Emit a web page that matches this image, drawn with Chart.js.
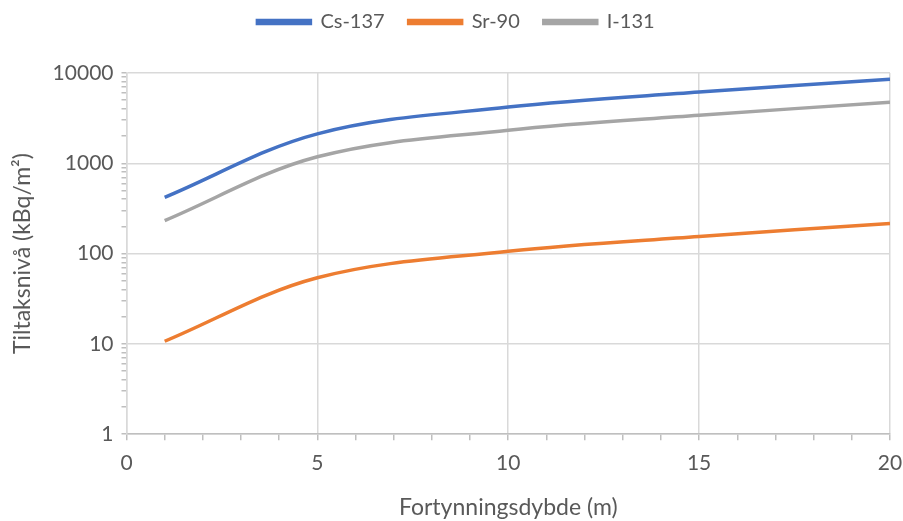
<!DOCTYPE html>
<html>
<head>
<meta charset="utf-8">
<script src="https://cdn.jsdelivr.net/npm/chart.js@4.4.1/dist/chart.umd.min.js"></script>
<style>
  body { margin: 0; background: #fff; }
</style>
</head>
<body>
<canvas id="chart" width="903" height="521"></canvas>
<script>
// depth values (m)
var depths = [1, 5, 10, 15, 20];
// action levels (kBq/m2)
var cs137 = [420, 2120, 4190, 6150, 8550];
var sr90 = [10.7, 54, 106, 155, 216];
var i131 = [232, 1180, 2320, 3400, 4750];
var seriesNames = ['Cs-137', 'Sr-90', 'I-131'];
var yMajor = [1, 10, 100, 1000, 10000];

var textColor = '#595959';
var gridColor = '#D9D9D9';
var font = 'Lato, "Open Sans", sans-serif';

function pts(vals) {
    return depths.map(function(d, i) { return { x: d, y: vals[i] }; });
}

function makeSet(label, vals, color) {
    return {
        label: label,
        data: pts(vals),
        borderColor: color,
        backgroundColor: color,
        borderWidth: 3.5,
        pointRadius: 0,
        tension: 0.35,
        fill: false
    };
}

// extra room under the legend
var legendGap = {
    id: 'legendGap',
    beforeInit: function(chart) {
        var orig = chart.legend.fit;
        chart.legend.fit = function() {
            orig.call(this);
            this.height += 31;
        };
    }
};

var ctx = document.getElementById('chart').getContext('2d');
var chart = new Chart(ctx, {
    type: 'line',
    data: {
        datasets: [
            makeSet(seriesNames[0], cs137, '#4472C4'),
            makeSet(seriesNames[1], sr90, '#ED7D31'),
            makeSet(seriesNames[2], i131, '#A5A5A5')
        ]
    },
    options: {
        responsive: false,
        animation: false,
        layout: { padding: { left: 9, right: 0, top: -12, bottom: 0 } },
        plugins: {
            legend: {
                position: 'top',
                labels: {
                    color: textColor,
                    font: { family: font, size: 20 },
                    boxWidth: 53,
                    boxHeight: 3,
                    padding: 24
                }
            },
            tooltip: { enabled: false }
        },
        scales: {
            x: {
                type: 'linear',
                min: 0,
                max: 20,
                afterFit: function(scale) { scale.paddingRight = 13; },
                ticks: {
                    stepSize: 1,
                    autoSkip: false,
                    maxRotation: 0,
                    color: textColor,
                    font: { family: font, size: 21 },
                    padding: 10,
                    callback: function(v) { return v % 5 === 0 ? String(v) : ''; }
                },
                grid: {
                    color: function(c) { return c.tick && c.tick.value % 5 === 0 ? gridColor : 'rgba(0,0,0,0)'; },
                    tickColor: '#BFBFBF',
                    tickLength: 6,
                    lineWidth: 1.5
                },
                border: { color: '#BFBFBF', width: 1.5 },
                title: {
                    display: true,
                    text: 'Fortynningsdybde (m)',
                    color: textColor,
                    font: { family: font, size: 23 },
                    padding: { top: 8, bottom: 0 }
                }
            },
            y: {
                type: 'logarithmic',
                min: 1,
                max: 10000,
                afterBuildTicks: function(scale) {
                    var t = [];
                    for (var d = 0; d < yMajor.length; d++) {
                        var base = yMajor[d];
                        t.push({ value: base, major: true });
                        if (d < yMajor.length - 1) {
                            for (var k = 2; k <= 9; k++) t.push({ value: base * k });
                        }
                    }
                    scale.ticks = t;
                },
                ticks: {
                    autoSkip: false,
                    color: textColor,
                    font: { family: font, size: 21 },
                    padding: 8,
                    callback: function(v) { return yMajor.indexOf(v) >= 0 ? String(v) : ''; }
                },
                grid: {
                    color: function(c) { return c.tick && yMajor.indexOf(c.tick.value) >= 0 ? gridColor : 'rgba(0,0,0,0)'; },
                    tickColor: '#BFBFBF',
                    tickLength: 5,
                    lineWidth: 1.5
                },
                border: { color: gridColor, width: 1.5 },
                title: {
                    display: true,
                    text: 'Tiltaksnivå (kBq/m²)',
                    color: textColor,
                    font: { family: font, size: 23 },
                    padding: { top: 0, bottom: 8 }
                }
            }
        }
    },
    plugins: [legendGap]
});
</script>
</body>
</html>
